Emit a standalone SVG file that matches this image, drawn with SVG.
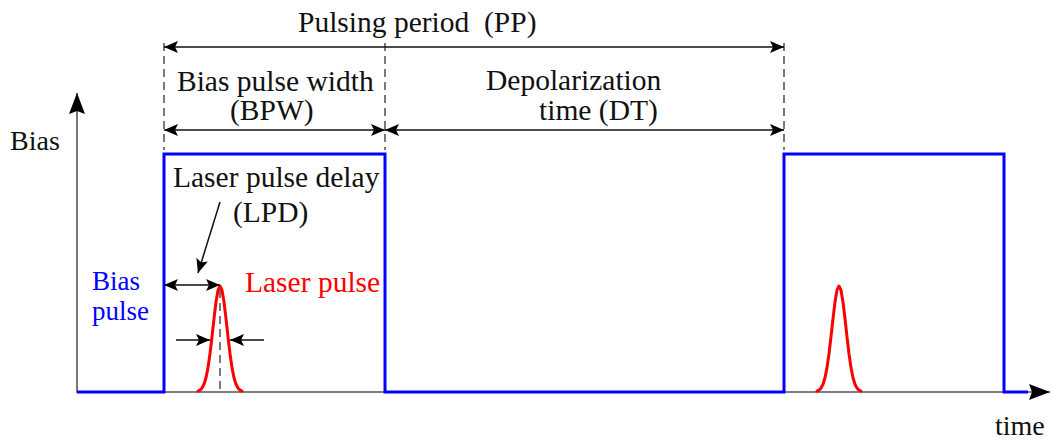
<svg xmlns="http://www.w3.org/2000/svg" width="1054" height="441" viewBox="0 0 1054 441">
<style>
text{font-family:'Liberation Serif','Times New Roman','DejaVu Serif',serif;font-size:29.5px;fill:#111}
.sm{font-size:28px}
.xs{font-size:27px}
.axis{stroke:#555;stroke-width:1.6;fill:none}
.dim{stroke:#111;stroke-width:1.5;fill:none}
.dash{stroke:#222;stroke-width:1.2;stroke-dasharray:8 5;fill:none}
.bias{stroke:#0000ff;stroke-width:3;fill:none;stroke-linejoin:miter}
.laser{stroke:#ff0000;stroke-width:3;fill:none;stroke-linejoin:round;stroke-linecap:round}
.blue{fill:#0000ff}
.red{fill:#ff0000}
</style>
<defs>
<marker id="ah" markerUnits="userSpaceOnUse" markerWidth="16" markerHeight="12" refX="14" refY="6" orient="auto-start-reverse">
<path d="M0,0 L14,6 L0,12 L3,6 Z" fill="#000"/>
</marker>
<marker id="ax" markerUnits="userSpaceOnUse" markerWidth="22" markerHeight="16" refX="21" refY="8" orient="auto">
<path d="M0,0 L21,8 L0,16 L3,8 Z" fill="#000"/>
</marker>
<path id="gauss" d="M-22,-0.8 L-20,-1.8 L-18,-3.9 L-16,-7.8 L-14,-14.3 L-12,-24.4 L-10,-38.2 L-8,-55.2 L-6,-73.4 L-4,-90 L-2,-101.8 L0,-106 L2,-101.8 L4,-90 L6,-73.4 L8,-55.2 L10,-38.2 L12,-24.4 L14,-14.3 L16,-7.8 L18,-3.9 L20,-1.8 L22,-0.8"/>
</defs>

<g id="axes">
<line class="axis" x1="77" y1="393" x2="77" y2="93" marker-end="url(#ax)"/>
<line class="axis" x1="77" y1="392" x2="1050" y2="392" marker-end="url(#ax)"/>
<text class="sm" x="10" y="150">Bias</text>
<text class="sm" x="995" y="435">time</text>
</g>

<g id="bias-signal">
<polyline class="bias" points="77,392 164,392 164,154 385,154 385,392 784,392 784,154 1004,154 1004,392 1028,392"/>
<text class="blue xs" x="92" y="290">Bias</text>
<text class="blue xs" x="92" y="320">pulse</text>
</g>

<g id="laser-pulses">
<use href="#gauss" class="laser" transform="translate(220,392)"/>
<use href="#gauss" class="laser" transform="translate(839,392)"/>
<text class="red" x="245" y="292">Laser pulse</text>
</g>

<g id="connectors">
<line class="dash" x1="164" y1="43" x2="164" y2="150"/>
<line class="dash" x1="385" y1="43" x2="385" y2="150"/>
<line class="dash" x1="784" y1="43" x2="784" y2="150"/>
<line class="dash" x1="220" y1="290" x2="220" y2="392"/>
<line class="dim" x1="164" y1="47" x2="784" y2="47" marker-start="url(#ah)" marker-end="url(#ah)"/>
<line class="dim" x1="164" y1="130" x2="385" y2="130" marker-start="url(#ah)" marker-end="url(#ah)"/>
<line class="dim" x1="385" y1="130" x2="784" y2="130" marker-start="url(#ah)" marker-end="url(#ah)"/>
<line class="dim" x1="164" y1="285" x2="220" y2="285" marker-start="url(#ah)" marker-end="url(#ah)"/>
<line class="dim" x1="220" y1="202" x2="198" y2="273" marker-end="url(#ah)"/>
<line class="dim" x1="176" y1="340" x2="210" y2="340" marker-end="url(#ah)"/>
<line class="dim" x1="264" y1="340" x2="230" y2="340" marker-end="url(#ah)"/>
</g>

<g id="labels">
<text x="298" y="32" xml:space="preserve">Pulsing period  (PP)</text>
<text x="177" y="91">Bias pulse width</text>
<text x="230" y="120">(BPW)</text>
<text x="486" y="90">Depolarization</text>
<text x="539" y="120">time (DT)</text>
<text x="173" y="187">Laser pulse delay</text>
<text x="233" y="222">(LPD)</text>
</g>
</svg>
